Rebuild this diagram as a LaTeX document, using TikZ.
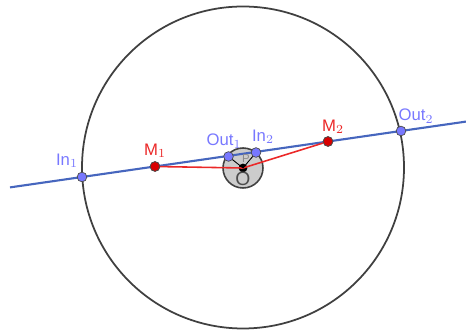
\documentclass[tikz,border=0pt]{standalone}
\usepackage{fontspec}
\setmainfont{Liberation Sans}
\definecolor{geoblue}{RGB}{70,102,190}
\definecolor{ptblue}{RGB}{120,120,255}
\definecolor{geored}{RGB}{235,40,40}
\tikzset{
    ptin/.style={circle,draw=black!70,fill=ptblue,inner sep=0pt,minimum size=5.5pt,line width=0.4pt},
    ptm/.style={circle,draw=black!70,fill=red!85!black,inner sep=0pt,minimum size=5.5pt,line width=0.4pt},
    lab/.style={font=\fontsize{9.5}{11}\selectfont,inner sep=0pt},
}
\begin{document}
\begin{tikzpicture}[x=0.02cm,y=-0.02cm]
    \useasboundingbox (0,0) rectangle (466,333);
    \draw [black!75, line width=1pt] (243,167.5) circle (161);
    \draw [black!75, fill=black!20, line width=0.9pt] (243,168) circle (20);
    \coordinate (lineA) at (10,187.4);
    \coordinate (lineB) at (466,121.6);
    \draw [geoblue, line width=1.2pt] (lineA) -- (lineB);
    % points
    \node [circle,fill=black,inner sep=0pt,minimum size=5pt] (O) at (243,168) {};
    \node [ptm] (M1) at (155,166.5) {};
    \node [ptm] (M2) at (328,141.5) {};
    \draw [geored, line width=0.9pt] (M1) -- (O.center) -- (M2);
    \draw [black, line width=0.5pt] (O.center) -- (228.5,156.5);
    \draw [black, line width=0.5pt] (O.center) -- (256,152.5);
    \node [ptin] (In1) at (82,177) {};
    \node [ptin] (Out1) at (228.5,156.5) {};
    \node [ptin] (In2) at (256,152.5) {};
    \node [ptin] (Out2) at (401,131) {};
    \node [ptm] at (M1) {};
    \node [ptm] at (M2) {};
    % lecter
    \node [lab, text=ptblue] (lIn1) at (67,161) {In$_1$};
    \node [lab, text=ptblue] (lOut1) at (224,141) {Out$_1$};
    \node [lab, text=ptblue] (lIn2) at (263,137) {In$_2$};
    \node [lab, text=ptblue] (lOut2) at (416,116) {Out$_2$};
    \node [lab, text=geored] (lM1) at (155,151) {M$_1$};
    \node [lab, text=geored] (lM2) at (333,127) {M$_2$};
    \node [lab, text=black!70, font=\fontsize{11}{12}\selectfont] (lO) at (243,179) {O};
    \node [lab, text=black!45, font=\fontsize{6.5}{7}\selectfont] (lP) at (246,159) {P};
\end{tikzpicture}
\end{document}
